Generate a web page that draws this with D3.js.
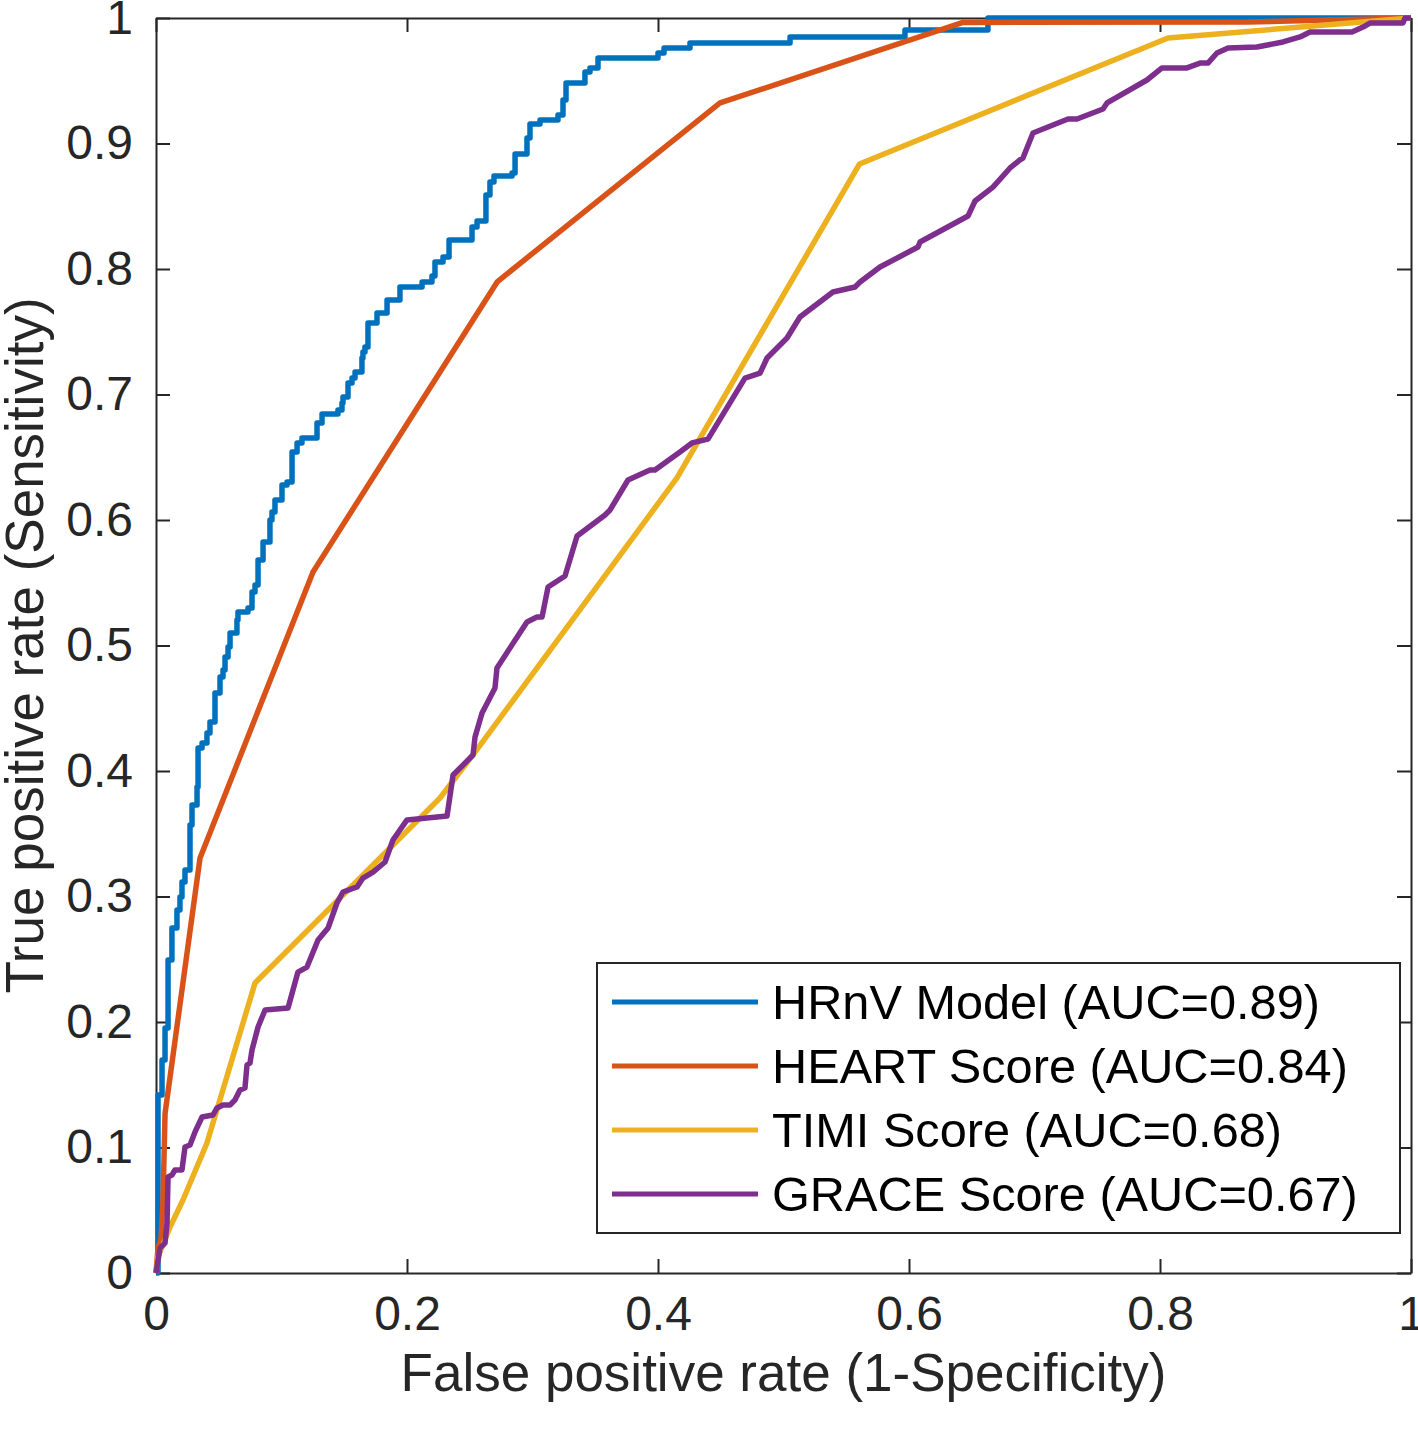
<!DOCTYPE html>
<html>
<head>
<meta charset="utf-8">
<script src="https://cdn.jsdelivr.net/npm/d3@7"></script>
<style>
  html, body { margin: 0; padding: 0; background: #fff; }
  svg { display: block; }
  text { font-family: "Liberation Sans", Arial, Helvetica, sans-serif; }
</style>
</head>
<body>
<svg id="chart" width="1418" height="1429"></svg>
<script>
// ---------------- data ----------------
const xTickValues = [0, 0.2, 0.4, 0.6, 0.8, 1];
const xTickLabels = ["0", "0.2", "0.4", "0.6", "0.8", "1"];
const yTickValues = [0, 0.1, 0.2, 0.3, 0.4, 0.5, 0.6, 0.7, 0.8, 0.9, 1];
const yTickLabels = ["0", "0.1", "0.2", "0.3", "0.4", "0.5", "0.6", "0.7", "0.8", "0.9", "1"];

const xLabel = "False positive rate (1-Specificity)";
const yLabel = "True positive rate (Sensitivity)";

const seriesNames = [
  "HRnV Model (AUC=0.89)",
  "HEART Score (AUC=0.84)",
  "TIMI Score (AUC=0.68)",
  "GRACE Score (AUC=0.67)"
];
const seriesColors = ["#0072BD", "#D95319", "#EDB120", "#7E2F8E"];

// HRnV: staircase ROC (each point = end of a horizontal run, rise happens first)
const hrnvFPR = [0, 0.0016, 0.0048, 0.0072, 0.0096, 0.0127, 0.0167, 0.0191, 0.0207, 0.0231, 0.0271,
  0.0287, 0.0327, 0.0335, 0.0367, 0.0406, 0.0430, 0.0470, 0.0510, 0.0534, 0.0550, 0.0574, 0.0590,
  0.0645, 0.0653, 0.0733, 0.0765, 0.0789, 0.0813, 0.0853, 0.0908, 0.0924, 0.0948, 0.1004, 0.1044,
  0.1084, 0.1124, 0.1163, 0.1283, 0.1323, 0.1450, 0.1482, 0.1490, 0.1530, 0.1562, 0.1586, 0.1641,
  0.1649, 0.1665, 0.1689, 0.1761, 0.1841, 0.1944, 0.2120, 0.2199, 0.2223, 0.2287, 0.2335, 0.2518,
  0.2558, 0.2629, 0.2661, 0.2693, 0.2837, 0.2861, 0.2956, 0.2980, 0.3060, 0.3203, 0.3243, 0.3267,
  0.3418, 0.3458, 0.3522, 0.4000, 0.4048, 0.4255, 0.5052, 0.5968, 0.6629, 1];
const hrnvTPR = [0, 0, 0.1418, 0.1697, 0.1952, 0.2494, 0.2749, 0.2892, 0.2996, 0.3116, 0.3211,
  0.3570, 0.3729, 0.3873, 0.4183, 0.4223, 0.4303, 0.4390, 0.4622, 0.4749, 0.4805, 0.4908, 0.4988,
  0.5100, 0.5203, 0.5267, 0.5299, 0.5426, 0.5482, 0.5681, 0.5825, 0.6000, 0.6064, 0.6159, 0.6279,
  0.6303, 0.6542, 0.6614, 0.6653, 0.6773, 0.6845, 0.6876, 0.6932, 0.6980, 0.7092, 0.7131, 0.7179,
  0.7291, 0.7339, 0.7378, 0.7570, 0.7649, 0.7753, 0.7857, 0.7896, 0.7944, 0.8056, 0.8096, 0.8231,
  0.8335, 0.8382, 0.8590, 0.8693, 0.8741, 0.8765, 0.8916, 0.9044, 0.9155, 0.9187, 0.9227, 0.9347,
  0.9482, 0.9570, 0.9602, 0.9681, 0.9721, 0.9761, 0.9801, 0.9849, 0.9904, 1];

const heartFPR = [0, 0.0016, 0.0040, 0.0056, 0.0072, 0.0351, 0.1251, 0.2721, 0.4494, 0.6430, 0.8700, 1];
const heartTPR = [0, 0.0200, 0.0270, 0.0580, 0.1270, 0.3307, 0.5586, 0.7900, 0.9323, 0.9965, 0.9968, 1];

const timiFPR = [0, 0.0016, 0.0112, 0.0215, 0.0406, 0.0789, 0.2263, 0.2542, 0.4151, 0.5606, 0.8064, 1];
const timiTPR = [0, 0.0130, 0.0367, 0.0582, 0.1036, 0.2311, 0.3785, 0.4151, 0.6335, 0.8837, 0.9841, 1];

const graceFPR = [0, 0.0032, 0.0072, 0.0088, 0.0096, 0.0127, 0.0151, 0.0207, 0.0231, 0.0271, 0.0311,
  0.0367, 0.0454, 0.0486, 0.0534, 0.0590, 0.0629, 0.0669, 0.0709, 0.0725, 0.0749, 0.0765, 0.0813,
  0.0869, 0.1052, 0.1131, 0.1203, 0.1291, 0.1371, 0.1442, 0.1490, 0.1602, 0.1649, 0.1729, 0.1825,
  0.1888, 0.2000, 0.2319, 0.2367, 0.2526, 0.2542, 0.2598, 0.2701, 0.2717, 0.2956, 0.3036, 0.3076,
  0.3124, 0.3259, 0.3355, 0.3578, 0.3618, 0.3761, 0.3936, 0.3976, 0.4175, 0.4271, 0.4398, 0.4693,
  0.4813, 0.4869, 0.5028, 0.5131, 0.5394, 0.5570, 0.5610, 0.5769, 0.6072, 0.6088, 0.6470, 0.6526,
  0.6669, 0.6805, 0.6884, 0.6908, 0.6988, 0.7267, 0.7339, 0.7546, 0.7578, 0.7896, 0.8016, 0.8215,
  0.8319, 0.8382, 0.8454, 0.8542, 0.8773, 0.8980, 0.9116, 0.9195, 0.9530, 0.9618, 0.9673, 0.9936,
  0.9952, 1];
const graceTPR = [0, 0.0199, 0.0239, 0.0398, 0.0765, 0.0781, 0.0821, 0.0821, 0.1004, 0.1020, 0.1124,
  0.1243, 0.1259, 0.1315, 0.1339, 0.1339, 0.1378, 0.1458, 0.1474, 0.1657, 0.1673, 0.1777, 0.1960,
  0.2096, 0.2112, 0.2398, 0.2438, 0.2653, 0.2749, 0.2948, 0.3036, 0.3076, 0.3147, 0.3195, 0.3275,
  0.3450, 0.3610, 0.3641, 0.3968, 0.4127, 0.4271, 0.4462, 0.4661, 0.4821, 0.5187, 0.5227, 0.5227,
  0.5466, 0.5554, 0.5873, 0.6040, 0.6080, 0.6319, 0.6398, 0.6398, 0.6542, 0.6614, 0.6645, 0.7131,
  0.7171, 0.7291, 0.7450, 0.7618, 0.7817, 0.7857, 0.7896, 0.8016, 0.8175, 0.8215, 0.8422, 0.8542,
  0.8653, 0.8805, 0.8869, 0.8884, 0.9084, 0.9195, 0.9195, 0.9275, 0.9323, 0.9506, 0.9602, 0.9602,
  0.9641, 0.9641, 0.9721, 0.9761, 0.9769, 0.9809, 0.9849, 0.9888, 0.9888, 0.9928, 0.9960, 0.9960,
  1.0, 1];

// ---------------- layout ----------------
const svg = d3.select("#chart");
const L = 156, R = 1411, T = 18, B = 1273;
const axisColor = "#262626";
const tickFont = 48, labelFont = 53, legendFont = 48.7;

const x = d3.scaleLinear().domain([0, 1]).range([L, R]);
const y = d3.scaleLinear().domain([0, 1]).range([B, T]);

function styleAxis(g) {
  g.select(".domain").attr("stroke", axisColor).attr("stroke-width", 2);
  g.selectAll(".tick line").attr("stroke", axisColor).attr("stroke-width", 2);
  g.selectAll(".tick text").attr("fill", axisColor)
    .style("font-size", tickFont + "px")
    .style("font-family", '"Liberation Sans", Arial, Helvetica, sans-serif');
}

const xFmt = d => xTickLabels[xTickValues.indexOf(d)];
const yFmt = d => yTickLabels[yTickValues.indexOf(d)];

svg.append("g").attr("transform", `translate(0,${B})`)
  .call(d3.axisBottom(x).tickValues(xTickValues).tickFormat(xFmt)
    .tickSizeInner(-14).tickSizeOuter(0).tickPadding(23))
  .call(styleAxis);
svg.append("g").attr("transform", `translate(0,${T})`)
  .call(d3.axisTop(x).tickValues(xTickValues).tickFormat(() => "")
    .tickSizeInner(-14).tickSizeOuter(0))
  .call(styleAxis);
svg.append("g").attr("transform", `translate(${L},0)`)
  .call(d3.axisLeft(y).tickValues(yTickValues).tickFormat(yFmt)
    .tickSizeInner(-14).tickSizeOuter(0).tickPadding(23))
  .call(styleAxis);
svg.append("g").attr("transform", `translate(${R},0)`)
  .call(d3.axisRight(y).tickValues(yTickValues).tickFormat(() => "")
    .tickSizeInner(-14).tickSizeOuter(0))
  .call(styleAxis);

// axis labels
svg.append("text")
  .attr("x", (L + R) / 2).attr("y", 1391)
  .attr("text-anchor", "middle")
  .attr("fill", axisColor)
  .style("font-size", labelFont + "px")
  .text(xLabel);
svg.append("text")
  .attr("transform", `translate(43,${(T + B) / 2}) rotate(-90)`)
  .attr("text-anchor", "middle")
  .attr("fill", axisColor)
  .style("font-size", labelFont + "px")
  .text(yLabel);

// ---------------- lines ----------------
const zip = (a, b) => a.map((v, i) => [v, b[i]]);
const series = [
  { pts: zip(hrnvFPR, hrnvTPR), curve: d3.curveStepBefore },
  { pts: zip(heartFPR, heartTPR), curve: d3.curveLinear },
  { pts: zip(timiFPR, timiTPR), curve: d3.curveLinear },
  { pts: zip(graceFPR, graceTPR), curve: d3.curveLinear }
];

[0, 1, 2, 3].forEach(i => {
  const s = series[i];
  const line = d3.line().x(d => x(d[0])).y(d => y(d[1])).curve(s.curve);
  svg.append("path")
    .datum(s.pts)
    .attr("d", line)
    .attr("fill", "none")
    .attr("stroke", seriesColors[i])
    .attr("stroke-width", 5.5)
    .attr("stroke-linejoin", "round")
    .attr("stroke-linecap", "butt");
});

// ---------------- legend ----------------
const lg = svg.append("g");
lg.append("rect")
  .attr("x", 597).attr("y", 963).attr("width", 803).attr("height", 270)
  .attr("fill", "#fff").attr("stroke", axisColor).attr("stroke-width", 2);
const rowY = [1002, 1066, 1130, 1194];
seriesNames.forEach((name, i) => {
  lg.append("line")
    .attr("x1", 612).attr("x2", 758)
    .attr("y1", rowY[i]).attr("y2", rowY[i])
    .attr("stroke", seriesColors[i]).attr("stroke-width", 5);
  lg.append("text")
    .attr("x", 772).attr("y", rowY[i] + 17)
    .attr("fill", "#000")
    .style("font-size", legendFont + "px")
    .text(name);
});
</script>
</body>
</html>
